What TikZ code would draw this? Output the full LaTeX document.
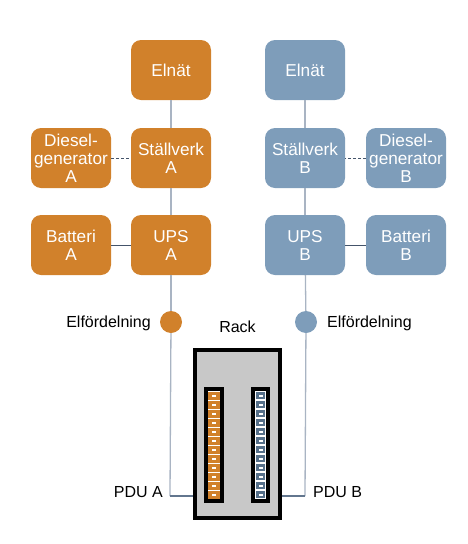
\documentclass[tikz,border=0pt]{standalone}
\usepackage{fontspec}
\setmainfont{Liberation Sans}
\definecolor{orA}{HTML}{D1812B}
\definecolor{blB}{HTML}{7E9DBA}
\definecolor{slotB}{HTML}{56708A}
\definecolor{conn}{HTML}{A9B4C3}
\definecolor{dark}{HTML}{44546A}
\definecolor{hline}{HTML}{62768E}
\definecolor{rackgray}{HTML}{C8C8C8}
\begin{document}
\begin{tikzpicture}[x=1pt,y=-1pt,
  box/.style={rounded corners=10pt, minimum width=80pt, minimum height=60pt, inner sep=0pt,
    text=white, align=center, font=\fontsize{17.2}{18}\selectfont},
  boxA/.style={box, fill=orA},
  boxB/.style={box, fill=blB},
  vconn/.style={draw=conn, line width=1.3pt},
  sconn/.style={draw=dark, line width=1pt},
  dconn/.style={draw=dark, line width=1pt, dash pattern=on 3pt off 2pt},
  lbl/.style={inner sep=0pt, font=\fontsize{16}{18}\selectfont}]
\useasboundingbox (0,0) rectangle (468,544);
% boxes A
\node[boxA] (elnA) at (171,70) {Elnät};
\node[boxA] (stA) at (171,158) {Ställverk\\A};
\node[boxA] (dieA) at (71,158) {Diesel-\\generator\\A};
\node[boxA] (upsA) at (171,245) {UPS\\A};
\node[boxA] (batA) at (71,245) {Batteri\\A};
% boxes B
\node[boxB] (elnB) at (305,70) {Elnät};
\node[boxB] (stB) at (305,158) {Ställverk\\B};
\node[boxB] (dieB) at (406,158) {Diesel-\\generator\\B};
\node[boxB] (upsB) at (305,245) {UPS\\B};
\node[boxB] (batB) at (406,245) {Batteri\\B};
% circles
\node[circle, fill=orA, minimum size=22pt, inner sep=0pt] (cA) at (171,322) {};
\node[circle, fill=blB, minimum size=22pt, inner sep=0pt] (cB) at (306,322) {};
% rack
\node[draw=black, line width=4pt, fill=rackgray, minimum width=85pt, minimum height=168pt, inner sep=0pt] (rack) at (237.5,434) {};
\node[lbl, anchor=base] (racklbl) at (237.5,332) {Rack};
% labels
\node[lbl, anchor=base east] (elfA) at (151,327) {Elfördelning};
\node[lbl, anchor=base west] (elfB) at (327,327) {Elfördelning};
\node[lbl, anchor=base east] (pduAl) at (163,497) {PDU A};
\node[lbl, anchor=base west] (pduBl) at (313,497) {PDU B};
\coordinate (pA) at (170,496);
\coordinate (pB) at (305,496);
% connectors
\draw[vconn] (elnA) -- (stA);
\draw[vconn] (stA) -- (upsA);
\draw[vconn] (upsA) -- (cA);
\draw[vconn] (cA) -- (pA);
\draw[draw=hline, line width=1.3pt] (pA) -- (rack.west |- pA);
\draw[vconn] (elnB) -- (stB);
\draw[vconn] (stB) -- (upsB);
\draw[vconn] (upsB) -- (cB);
\draw[vconn] (cB) -- (pB);
\draw[draw=hline, line width=1.3pt] (pB) -- (rack.east |- pB);
\draw[dconn] (dieA) -- (stA);
\draw[dconn] (dieB) -- (stB);
\draw[sconn] (batA) -- (upsA);
\draw[sconn] (batB) -- (upsB);
% PDU strip A
\draw[line width=4pt, fill=orA] (206,389) rectangle (222,501);
\foreach \i in {0,...,11} {
  \pgfmathsetmacro{\yy}{391+9*\i}
  \fill[orA] (208,\yy) rectangle (220,\yy+9);
  \draw[white, line width=0.9pt] (208,\yy) -- (220,\yy);
  \fill[white] (212,\yy+4) rectangle (216,\yy+5.5);
}
% PDU strip B
\draw[line width=4pt, fill=black] (253,389) rectangle (268,501);
\foreach \i in {0,...,11} {
  \pgfmathsetmacro{\yy}{391+9*\i}
  \filldraw[fill=slotB, draw=white, line width=0.8pt] (255.3,\yy+0.4) rectangle (265.7,\yy+8.6);
  \fill[white] (258.5,\yy+4) rectangle (262.5,\yy+5.5);
}
\end{tikzpicture}
\end{document}
